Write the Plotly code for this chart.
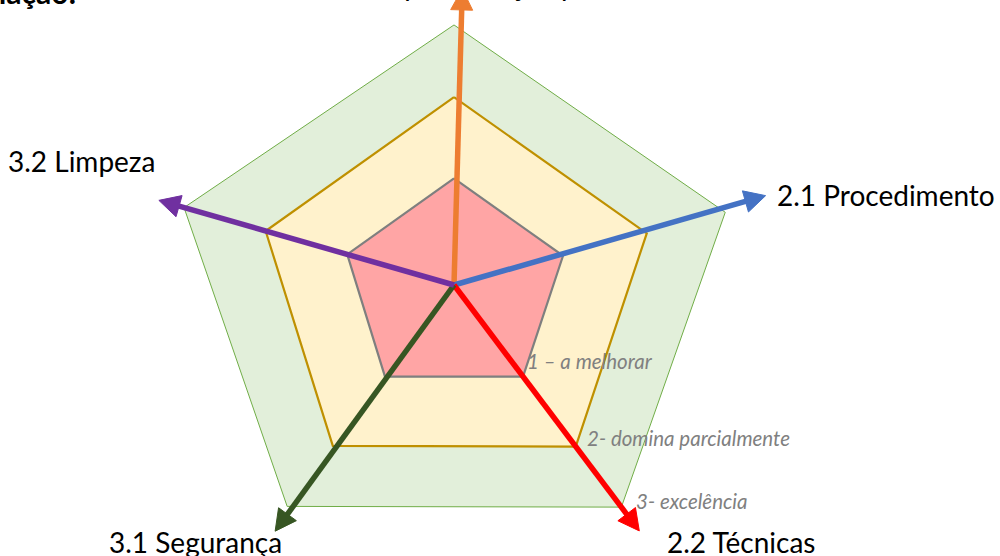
import math
import plotly.graph_objects as go

# Axis labels (clockwise from top) and the angles (deg, clockwise from top) of the pentagon vertices
axis_labels = ["1.1 Apresentação pessoal", "2.1 Procedimento", "2.2 Técnicas",
               "3.1 Segurança", "3.2 Limpeza"]
vertex_theta = [0, 75, 143, 217, 286]

# Radii of the three level pentagons (scale 0..3)
level_names = ["3- excelência", "2- domina parcialmente", "1 – a melhorar"]
level_r = [
    [2.88, 3.11, 3.08, 3.07, 3.11],
    [2.08, 2.21, 2.24, 2.23, 2.17],
    [1.18, 1.25, 1.27, 1.27, 1.23],
]
level_fill = ["#E2EFDA", "#FFF2CC", "#FFA5A5"]
level_line = ["#70AD47", "#BF9000", "#7F7F7F"]
level_width = [1, 2.2, 2.2]

# Arrows (one per criterion): direction and tip radius
arrow_theta = [1.6, 74, 143, 216, 286]
arrow_tip_r = [3.28, 3.59, 3.41, 3.37, 3.40]
arrow_color = ["#ED7D31", "#4472C4", "#FF0000", "#375623", "#7030A0"]

W, H = 1000, 556
CX, CY = 454.0, 285.0          # pixel position of the centre
PPU = 90.3                     # pixels per radial unit
HEAD_LEN = 21.0 / PPU          # arrowhead length
HEAD_HALF_W = 11.0 / PPU       # arrowhead half width


def to_xy(r, theta_deg):
    t = math.radians(theta_deg)
    return r * math.sin(t), r * math.cos(t)


fig = go.Figure()

for name, rs, fc, lc, lw in zip(level_names, level_r, level_fill, level_line, level_width):
    pts = [to_xy(r, t) for r, t in zip(rs + rs[:1], vertex_theta + vertex_theta[:1])]
    fig.add_trace(go.Scatter(
        x=[p[0] for p in pts], y=[p[1] for p in pts],
        mode="lines", fill="toself", fillcolor=fc,
        line=dict(color=lc, width=lw), name=name, hoverinfo="skip",
        cliponaxis=False,
    ))

for th, rt, col, lab in zip(arrow_theta, arrow_tip_r, arrow_color, axis_labels):
    rb = rt - HEAD_LEN
    bx, by = to_xy(rb + 0.03, th)
    fig.add_trace(go.Scatter(
        x=[0, bx], y=[0, by], mode="lines",
        line=dict(color=col, width=5.5),
        name=lab, cliponaxis=False, hoverinfo="skip",
    ))
    tx, ty = to_xy(rt, th)
    cx, cy = to_xy(rb, th)
    ux, uy = to_xy(1.0, th + 90)   # perpendicular unit vector
    fig.add_trace(go.Scatter(
        x=[tx, cx + HEAD_HALF_W * ux, cx - HEAD_HALF_W * ux, tx],
        y=[ty, cy + HEAD_HALF_W * uy, cy - HEAD_HALF_W * uy, ty],
        mode="lines", fill="toself", fillcolor=col,
        line=dict(color=col, width=1),
        name=lab, cliponaxis=False, hoverinfo="skip",
    ))


def px(x):
    return x / W


def py(y):
    return 1 - y / H


cat_font = dict(family="Lato", size=28, color="#000000")
lvl_font = dict(family="Lato", size=20.5, color="#808080")

annotations = [
    # top label (cut off by the top edge)
    dict(text=axis_labels[0], x=px(338), y=py(-15), xanchor="left", yanchor="middle", font=cat_font),
    dict(text=axis_labels[1], x=px(775), y=py(195), xanchor="left", yanchor="middle", font=cat_font),
    dict(text=axis_labels[2], x=px(665), y=py(542), xanchor="left", yanchor="middle", font=cat_font),
    dict(text=axis_labels[3], x=px(107), y=py(542), xanchor="left", yanchor="middle", font=cat_font),
    dict(text=axis_labels[4], x=px(6), y=py(161), xanchor="left", yanchor="middle", font=cat_font),
    dict(text="<i>" + level_names[2] + "</i>", x=px(525), y=py(361), xanchor="left", yanchor="middle", font=lvl_font),
    dict(text="<i>" + level_names[1] + "</i>", x=px(585), y=py(438), xanchor="left", yanchor="middle", font=lvl_font),
    dict(text="<i>" + level_names[0] + "</i>", x=px(634), y=py(501), xanchor="left", yanchor="middle", font=lvl_font),
    # bold title at the top-left (cut off)
    dict(text="<b>Avaliação:</b>", x=px(78), y=py(-8), xanchor="right", yanchor="middle",
         font=dict(family="Lato", size=30, color="#000000")),
]
for a in annotations:
    a.update(xref="paper", yref="paper", showarrow=False)

fig.update_layout(
    width=W, height=H,
    margin=dict(l=0, r=0, t=0, b=0),
    paper_bgcolor="white",
    plot_bgcolor="white",
    showlegend=False,
    annotations=annotations,
    xaxis=dict(visible=False, range=[-CX / PPU, (W - CX) / PPU], fixedrange=True),
    yaxis=dict(visible=False, range=[-(H - CY) / PPU, CY / PPU], fixedrange=True),
)

fig.write_html("out.html", config={"displayModeBar": False},
               post_script="document.body.style.margin='0px';")
